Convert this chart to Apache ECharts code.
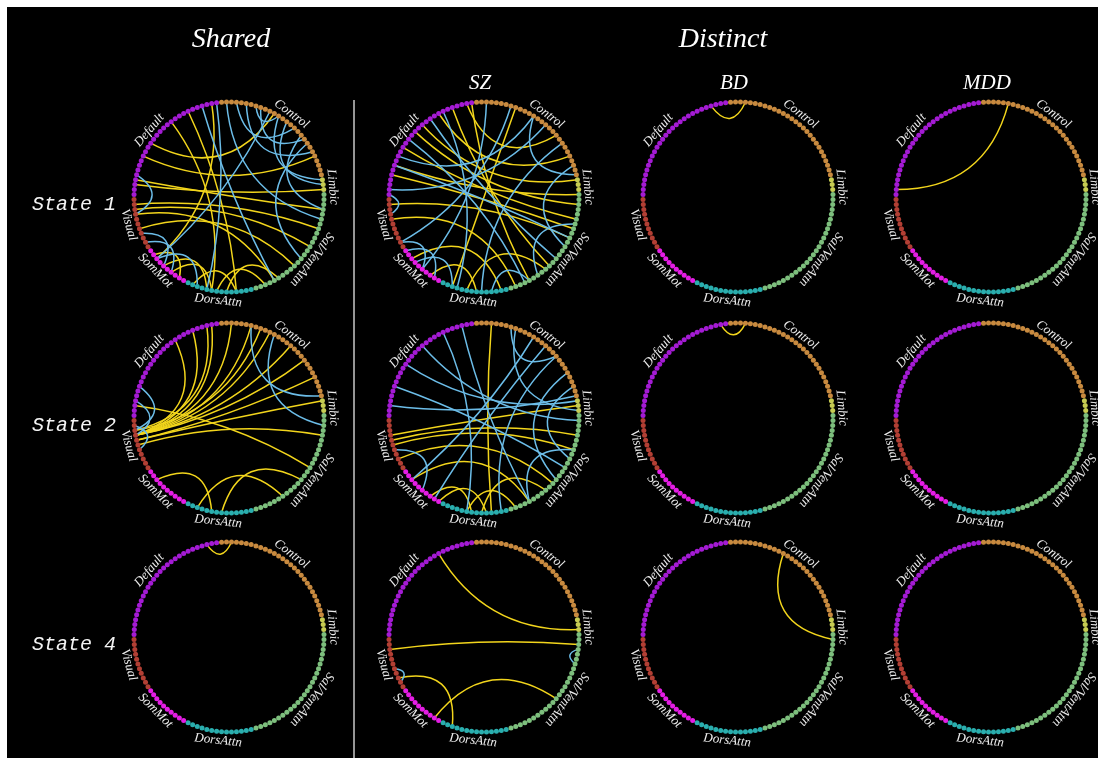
<!DOCTYPE html>
<html>
<head>
<meta charset="utf-8">
<script src="https://cdn.jsdelivr.net/npm/echarts@6/dist/echarts.min.js"></script>
<style>
  html, body { margin: 0; padding: 0; background: #ffffff; }
  #chart { position: absolute; left: 7px; top: 7px; width: 1091px; height: 751px; background: #000; }
</style>
</head>
<body>
<div id="chart"></div>
<script>
// ---- Networks (listed clockwise around each ring) ----
const networkCodes  = ['SAL', 'DAN', 'SMN', 'VIS', 'DMN', 'CON', 'LIM'];
const networkNames  = ['Sal/VentAttn', 'DorsAttn', 'SomMot', 'Visual', 'Default', 'Control', 'Limbic'];
const networkSizes  = [26, 14, 10, 11, 28, 28, 3];
const networkColors = ['#7dbf7d', '#2aaeae', '#e41de4', '#b23f34', '#a41bd4', '#c88a3f', '#c6cc52'];

// ---- Panel headings ----
const columnTitles = ['SZ', 'BD', 'MDD'];
const rowTitles = ['State 1', 'State 2', 'State 4'];

// ---- Connections: [node, node] ----
const sharedS1Yellow = [['DMN18','DAN9'], ['DMN3','LIM3'], ['DMN4','SAL4'], ['VIS10','SAL8'], ['VIS9','SAL12'],
  ['VIS8','SAL22'], ['DMN9','CON24'], ['DMN22','DAN4'], ['DAN9','SMN4'], ['DAN8','SAL24'], ['DAN4','DAN13'],
  ['SMN2','SMN9'], ['SAL21','DAN6'], ['SMN6','DAN10'], ['DMN12','CON12'], ['DMN27','SMN8'], ['VIS5','SAL17']];
const sharedS1Blue = [['CON4','CON17'], ['CON6','CON23'], ['CON9','CON20'], ['CON13','LIM1'], ['CON15','LIM2'],
  ['CON8','CON13'], ['CON19','SAL4'], ['CON2','SAL6'], ['DMN25','SAL22'], ['DMN28','DAN10'], ['CON11','SMN8'],
  ['SMN4','VIS2'], ['SMN6','VIS4'], ['SMN8','DAN12'], ['VIS8','DMN5'], ['CON21','SAL15']];

const sharedS2Yellow = [['VIS8','DMN19'], ['VIS8','DMN23'], ['VIS8','DMN27'], ['VIS8','CON3'], ['VIS8','CON7'],
  ['VIS8','CON11'], ['VIS8','CON16'], ['VIS8','CON20'], ['VIS7','CON24'], ['VIS7','LIM1'], ['VIS9','DMN26'],
  ['VIS9','CON9'], ['VIS6','SAL5'], ['DMN3','SAL12'], ['DAN7','SAL15'], ['DAN12','SAL20'], ['SMN8','DAN9']];
const sharedS2Blue = [['VIS8','DMN4'], ['VIS9','DMN7'], ['VIS5','VIS10'], ['CON12','SAL3'], ['CON7','CON28']];

const sharedS4Yellow = [['DMN26','CON3']];
const sharedS4Blue = [];

const szS1Yellow = [['DMN17','LIM1'], ['DMN15','SAL3'], ['DMN11','SAL6'], ['DMN7','SAL1'], ['DMN5','SAL8'],
  ['VIS10','SAL10'], ['DMN24','SAL17'], ['DMN28','SAL22'], ['DMN21','CON24'], ['DMN27','CON19'], ['VIS7','SAL25'],
  ['SMN8','DAN2'], ['SMN3','DAN7'], ['CON9','DAN12'], ['DAN9','SAL18']];
const szS1Blue = [['DMN19','SAL15'], ['DMN13','SAL23'], ['DMN9','CON13'], ['DMN22','DAN11'], ['CON3','SMN5'],
  ['CON8','VIS2'], ['CON16','DMN2'], ['CON21','DAN6'], ['CON26','SAL12'], ['CON13','CON28'], ['VIS8','DMN1'],
  ['SMN5','VIS2'], ['SMN2','SMN10'], ['DAN12','SMN7'], ['SAL22','DAN4'], ['SAL7','SAL20'], ['DMN7','SAL10']];

const szS2Yellow = [['CON4','DAN4'], ['VIS8','LIM2'], ['VIS7','SAL5'], ['VIS6','SAL8'], ['VIS3','SAL16'],
  ['SMN3','DAN8'], ['SMN1','DAN5'], ['DAN9','SAL25'], ['SMN8','SAL22'], ['DAN6','SAL18']];
const szS2Blue = [['DMN17','SAL2'], ['DMN12','LIM1'], ['DMN7','SAL12'], ['DMN3','CON28'], ['DMN22','DAN9'],
  ['DMN26','SAL22'], ['CON9','LIM3'], ['CON13','SMN8'], ['CON16','SMN2'], ['CON19','DAN2'], ['CON23','SAL15'],
  ['CON8','CON19'], ['CON26','SAL10'], ['VIS5','SMN5'], ['SAL8','SAL22']];

const szS4Yellow = [['DMN21','LIM3'], ['VIS9','SAL3'], ['VIS3','DAN12'], ['SMN2','SAL15']];
const szS4Blue = [['SAL4','SAL7'], ['VIS2','VIS5']];

const bdS1Yellow = [['DMN25','CON4']];
const bdS2Yellow = [['DMN27','CON4']];
const bdS4Yellow = [['CON12','SAL2']];
const mddS1Yellow = [['DMN2','CON6']];

// grid of panels: rows = states, columns = Shared, SZ, BD, MDD
const panels = [
  [[sharedS1Yellow, sharedS1Blue], [szS1Yellow, szS1Blue], [bdS1Yellow, []], [mddS1Yellow, []]],
  [[sharedS2Yellow, sharedS2Blue], [szS2Yellow, szS2Blue], [bdS2Yellow, []], [[], []]],
  [[sharedS4Yellow, sharedS4Blue], [szS4Yellow, szS4Blue], [bdS4Yellow, []], [[], []]]
];

// ---- Layout / styling ----
const OX = 7, OY = 7;               // chart box offset in the page
const colX = [229, 484, 738, 991];   // ring centres (page px)
const rowY = [197, 418, 637];
const R = 95;
const YELLOW = '#f2d51c';
const BLUE = '#6cbde8';
const ringShift = 1;                  // first node of the list sits just above 3 o'clock
const labelNudge = [1, 0, 3, 1, -2, 1, 2]; // degrees, per network name

// ring order, clockwise from 3 o'clock
const canonical = [];
networkCodes.forEach((code, k) => {
  for (let i = 1; i <= networkSizes[k]; i++) canonical.push({ name: code + i, net: k });
});
const ring = canonical.slice(ringShift).concat(canonical.slice(0, ringShift));
const N = ring.length;
const step = 360 / N;
const posOf = {};
ring.forEach((n, g) => { posOf[n.name] = g; });

// curve bending toward the centre, deeper for nearby nodes (hyperbolic-style arcs)
function curvenessFor(a, b) {
  let d = Math.abs(posOf[a] - posOf[b]);
  d = Math.min(d, N - d);
  const half = d * step / 2 * Math.PI / 180;
  const s = Math.sin(half);
  return (2 / 3) * s / (1 + s);
}

function makeLinks(list, color) {
  return list.map(([a, b]) => ({
    source: a, target: b,
    lineStyle: { color: color, width: 1.5, opacity: 1, curveness: curvenessFor(a, b) }
  }));
}

const series = [];
const graphic = [];
const labelFont = 'italic 13px "Liberation Serif", "Times New Roman", serif';

const startOf = [];
networkSizes.reduce((acc, s) => { startOf.push(acc); return acc + s; }, 0);

rowY.forEach((cy, r) => {
  colX.forEach((cx, c) => {
    const [yl, bl] = panels[r][c];
    series.push({
      type: 'graph',
      layout: 'circular',
      silent: true,
      animation: false,
      left: cx - R - OX, top: cy - R - OY, width: 2 * R, height: 2 * R,
      symbol: 'circle',
      symbolSize: 5,
      label: { show: false },
      emphasis: { disabled: true },
      data: ring.map(n => ({ name: n.name, itemStyle: { color: networkColors[n.net] } })),
      links: makeLinks(yl, YELLOW).concat(makeLinks(bl, BLUE)),
      lineStyle: { width: 1.5, opacity: 1 }
    });

    // network names along the outside of the ring
    networkSizes.forEach((s, k) => {
      const first = (startOf[k] - ringShift + N) % N;
      const midDeg = (first + s / 2) * step + labelNudge[k];
      const a = midDeg * Math.PI / 180;
      const dir = (Math.sin(a) < -0.05 || midDeg > 300) ? midDeg + 90 : midDeg - 90;
      graphic.push({
        type: 'text', silent: true,
        x: cx - OX + (R + 9) * Math.cos(a),
        y: cy - OY + (R + 9) * Math.sin(a),
        rotation: -dir * Math.PI / 180,
        style: { text: networkNames[k], fill: '#ececec', font: labelFont, align: 'center', verticalAlign: 'middle' }
      });
    });
  });
});

// headings
graphic.push({ type: 'text', silent: true, x: 231 - OX, y: 40 - OY,
  style: { text: 'Shared', fill: '#ffffff', font: 'italic 28px "Liberation Serif", serif', align: 'center', verticalAlign: 'middle' } });
graphic.push({ type: 'text', silent: true, x: 723 - OX, y: 40 - OY,
  style: { text: 'Distinct', fill: '#ffffff', font: 'italic 28px "Liberation Serif", serif', align: 'center', verticalAlign: 'middle' } });
columnTitles.forEach((t, i) => {
  graphic.push({ type: 'text', silent: true, x: colX[i + 1] - 4 - OX, y: 83 - OY,
    style: { text: t, fill: '#ffffff', font: 'italic 21px "Liberation Serif", serif', align: 'center', verticalAlign: 'middle' } });
});
rowTitles.forEach((t, i) => {
  graphic.push({ type: 'text', silent: true, x: 74 - OX, y: rowY[i] + 8 - OY,
    style: { text: t, fill: '#f4f4f4', font: 'italic 20px "Liberation Mono", monospace', align: 'center', verticalAlign: 'middle' } });
});
// divider between shared and distinct columns
graphic.push({ type: 'line', silent: true,
  shape: { x1: 354 - OX, y1: 100 - OY, x2: 354 - OX, y2: 760 - OY },
  style: { stroke: '#c8c8c8', lineWidth: 1.5 } });

const chart = echarts.init(document.getElementById('chart'));
chart.setOption({
  backgroundColor: '#000000',
  animation: false,
  series: series,
  graphic: graphic
});
</script>
</body>
</html>
